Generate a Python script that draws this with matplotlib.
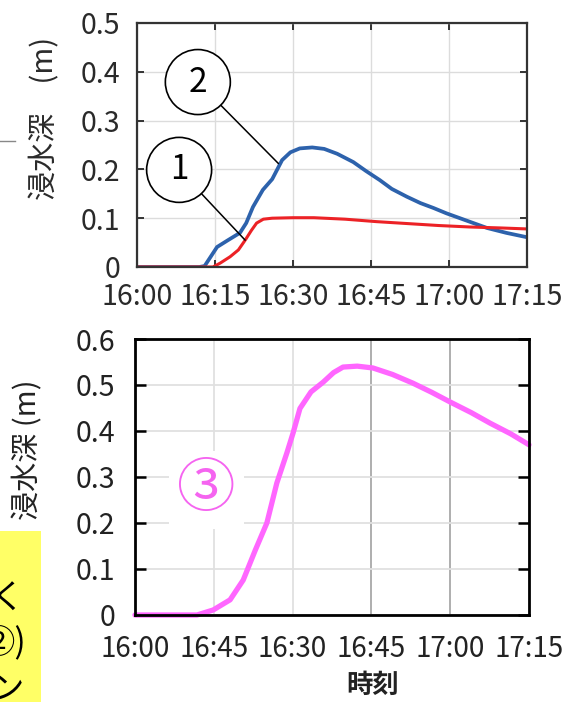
import matplotlib
matplotlib.use("Agg")
import matplotlib.pyplot as plt
from matplotlib.patches import Rectangle
from matplotlib.lines import Line2D

plt.rcParams['font.family'] = ['Noto Sans CJK JP', 'DejaVu Sans']

# minutes after 16:00
tick_min = [0, 15, 30, 45, 60, 75]
top_ticklabels = ['16:00', '16:15', '16:30', '16:45', '17:00', '17:15']
bot_ticklabels = ['16:00', '16:45', '16:30', '16:45', '17:00', '17:15']

# depth series, top panel
t_blue = [0, 12, 13, 15.4, 17.5, 19.8, 21, 22.3, 24.2, 26, 27.9, 29.5, 31.3, 33.7,
          36, 38.5, 41.6, 44, 46.7, 49, 51.9, 54.5, 57, 59.5, 62.1, 64.7, 67.3, 71, 75]
d_blue = [0, 0, 0.002, 0.041, 0.055, 0.07, 0.09, 0.123, 0.158, 0.18, 0.219, 0.235, 0.243, 0.245,
          0.242, 0.232, 0.215, 0.197, 0.178, 0.160, 0.144, 0.131, 0.121, 0.110, 0.100, 0.090, 0.080, 0.070, 0.061]
t_red = [0, 14.6, 16, 17.9, 19.5, 20.8, 22, 23, 24.3, 26, 30, 34, 40, 46, 52, 58, 64, 70, 75]
d_red = [0, 0, 0.008, 0.021, 0.035, 0.055, 0.075, 0.09, 0.098, 0.1, 0.101, 0.101, 0.098,
         0.093, 0.089, 0.085, 0.082, 0.080, 0.078]

# depth series, bottom panel
t_mag = [0, 11.8, 14.9, 18.1, 20.6, 22.9, 25.1, 27, 28.9, 30.1, 31.4, 33.5, 35.8, 37.8, 39.6,
         42.3, 45.3, 49, 52.9, 56.5, 60, 64, 67.6, 71.5, 75]
d_mag = [0, 0, 0.011, 0.033, 0.076, 0.141, 0.2, 0.287, 0.352, 0.396, 0.449, 0.485, 0.506, 0.527, 0.539,
         0.541, 0.537, 0.523, 0.504, 0.484, 0.463, 0.440, 0.417, 0.394, 0.37]

W, H = 586, 702
fig = plt.figure(figsize=(W / 100, H / 100), dpi=100)

def px_axes(l, t, r, b):
    return fig.add_axes([l / W, 1 - b / H, (r - l) / W, (b - t) / H])

# ---- top panel
ax1 = px_axes(137, 23, 527, 267)
ax1.plot(t_blue, d_blue, color='#2d62ac', lw=2.7, solid_capstyle='round')
ax1.plot(t_red, d_red, color='#ec2226', lw=2.2)
ax1.set_xlim(0, 75)
ax1.set_ylim(0, 0.5)
ax1.set_xticks(tick_min)
ax1.set_xticklabels(top_ticklabels)
ax1.set_yticks([0, 0.1, 0.2, 0.3, 0.4, 0.5])
ax1.set_yticklabels(['0', '0.1', '0.2', '0.3', '0.4', '0.5'])
ax1.tick_params(direction='in', length=5, width=1.4, top=True, right=True,
                labelsize=20.5, labelcolor='#2a2a2a', color='#333333')
ax1.tick_params(axis='x', pad=11)
ax1.tick_params(axis='y', pad=12)
ax1.grid(True, color='#dcdcdc', lw=1.0)
ax1.set_axisbelow(True)
for s in ax1.spines.values():
    s.set_linewidth(1.6)
    s.set_color('#333333')
ax1.set_ylabel('浸水深　(m)', fontsize=21, color='#2a2a2a')
ax1.yaxis.set_label_coords(-0.197, 0.61)

circ = dict(boxstyle='circle,pad=0.45', fc='white', ec='black', lw=1.2)
ax1.annotate('2', xy=(27.2, 0.212), xytext=(11.7, 0.379), fontsize=24,
             ha='center', va='center', bbox=circ,
             arrowprops=dict(arrowstyle='-', color='black', lw=1.1, shrinkA=0, shrinkB=0))
ax1.annotate('1', xy=(20.8, 0.055), xytext=(8.1, 0.199), fontsize=24,
             ha='center', va='center', bbox=circ,
             arrowprops=dict(arrowstyle='-', color='black', lw=1.1, shrinkA=0, shrinkB=0))

# ---- bottom panel
ax2 = px_axes(135, 339, 529, 615)
ax2.plot(t_mag, d_mag, color='#ff66ff', lw=3.8, solid_capstyle='round', clip_on=False)
ax2.set_xlim(0, 75)
ax2.set_ylim(0, 0.6)
ax2.set_xticks(tick_min)
ax2.set_xticklabels(bot_ticklabels)
ax2.set_xticks([15, 45], minor=True)
ax2.set_yticks([0, 0.1, 0.2, 0.3, 0.4, 0.5, 0.6])
ax2.set_yticklabels(['0', '0.1', '0.2', '0.3', '0.4', '0.5', '0.6'])
ax2.tick_params(axis='x', which='major', length=0, pad=14, labelsize=20, labelcolor='#222222')
ax2.tick_params(axis='x', which='minor', direction='in', length=7, width=2, top=True, bottom=True)
ax2.tick_params(axis='y', direction='in', length=8, width=1.8, left=True, right=True,
                pad=14, labelsize=20.5, labelcolor='#222222')
ax2.grid(True, which='major', color='#e0e0e0', lw=1.3)
for i, gl in enumerate(ax2.get_xgridlines()):
    if i in (3, 4):
        gl.set_color('#a8a8a8')
ax2.set_axisbelow(True)
for s in ax2.spines.values():
    s.set_linewidth(2.0)
    s.set_color('black')
ax2.set_ylabel('浸水深 (m)', fontsize=21, color='#222222')
ax2.yaxis.set_label_coords(-0.232, 0.598)
ax2.set_xlabel('時刻', fontsize=19, fontweight='bold', color='#222222')
ax2.xaxis.set_label_coords(0.604, -0.205)

ax2.text(13.6, 0.272, '③', fontsize=42, color='#f564f0', ha='center', va='center',
         bbox=dict(boxstyle='square,pad=0.15', fc='white', ec='none'), zorder=1.5)

# yellow strip at the left edge with cut-off text
fig.patches.append(Rectangle((0, 0), 41 / W, 171 / H, transform=fig.transFigure,
                             facecolor='#ffff66', edgecolor='none', zorder=0))
fig.text(24 / W, 1 - 598 / H, 'く', fontsize=24, ha='right', va='center', color='black')
fig.text(27 / W, 1 - 643 / H, '②)', fontsize=24, ha='right', va='center', color='black')
fig.text(24 / W, 1 - 690 / H, 'ン', fontsize=24, ha='right', va='center', color='black')

# short stray rule on the left
fig.lines.append(Line2D([0, 15 / W], [1 - 141 / H, 1 - 141 / H], transform=fig.transFigure,
                        color='#888888', lw=1))

fig.savefig('out.png', dpi=100)
